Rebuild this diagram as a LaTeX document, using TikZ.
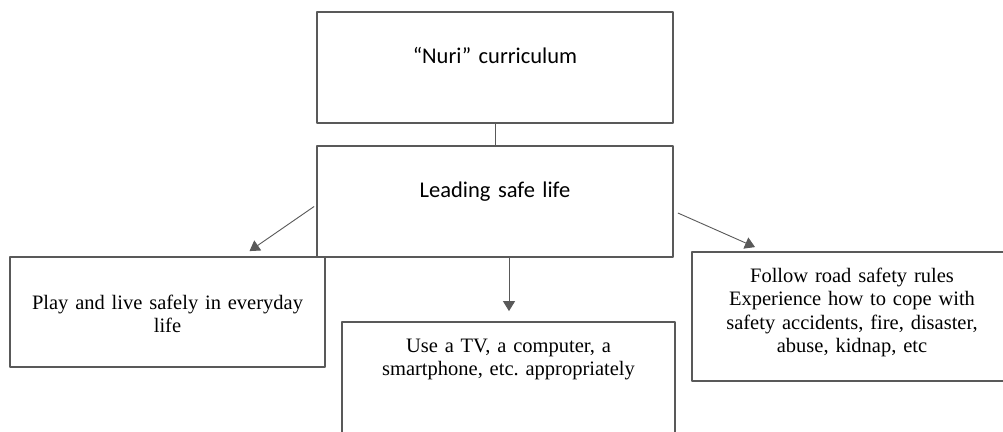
\documentclass[tikz,border=0pt]{standalone}
\usepackage{fontspec}
\setmainfont{Liberation Serif}
\newfontfamily\calfont{Carlito}
\usetikzlibrary{arrows.meta}
\definecolor{linegray}{HTML}{595959}
\tikzset{
  box/.style={draw=linegray,line width=1.8pt,inner sep=0pt,align=center,anchor=base},
  calbox/.style={box,font=\calfont\fontsize{22.5}{27}\selectfont,text width=356pt,text height=51pt,text depth=60pt},
  arr/.style={draw=linegray,line width=0.9pt,-{Triangle[width=12pt,length=10pt]}}
}
\frenchspacing
\begin{document}
\begin{tikzpicture}[x=1pt,y=-1pt,font=\fontsize{20.5}{23.5}\selectfont,line join=round]
  \clip (0,0) rectangle (1003,431);
  \fill[white] (0,0) rectangle (1003,431);
  \node[calbox] (nuri) at (495,63) {“Nuri” curriculum};
  \node[calbox] (life) at (495,197) {Leading safe life};
  \node[box,text width=315pt,text height=52pt,text depth=58pt] (play) at (167.5,309) {Play and live safely in everyday\\life};
  \node[box,text width=333pt,text height=30pt,text depth=84pt] (use) at (508.5,352) {Use a TV, a computer, a\\smartphone, etc. appropriately};
  \node[box,text width=320pt,text height=30pt,text depth=99pt] (rules) at (852,282) {Follow road safety rules\\Experience how to cope with\\safety accidents, fire, disaster,\\abuse, kidnap, etc};
  \draw[draw=linegray,line width=0.9pt] (nuri.south) -- (life.north);
  \draw[arr] ([xshift=-2pt,yshift=-5pt]life.west) -- ([xshift=82pt,yshift=5pt]play.north);
  \draw[arr,shorten >=10pt] ([xshift=14pt]life.south) -- ([xshift=14pt]life.south |- use.north);
  \draw[arr] ([xshift=4pt,yshift=-11.5pt]life.east) -- ([xshift=-97pt,yshift=4pt]rules.north);
\end{tikzpicture}
\end{document}
